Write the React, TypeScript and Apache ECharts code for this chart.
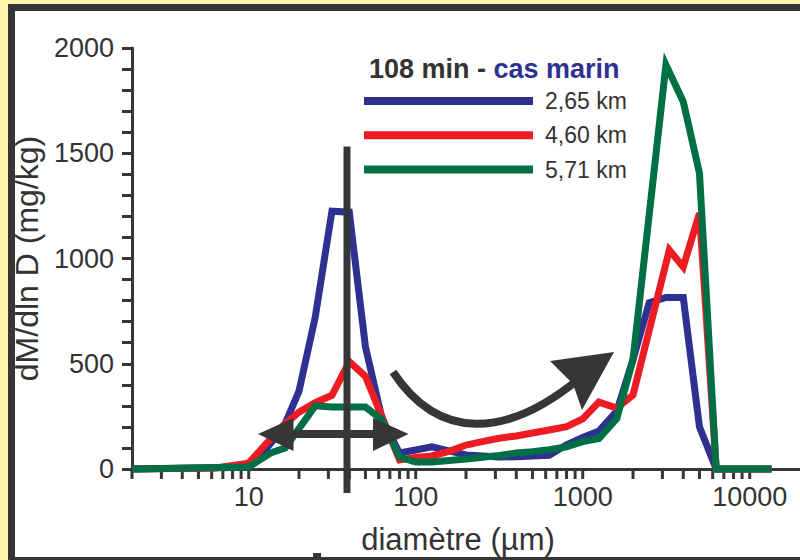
import React, { useEffect, useRef } from "react";
import * as echarts from "echarts";

// ---- data (diameter in µm, dM/dlnD in mg/kg) ----
const seriesNames = ["2,65 km", "4,60 km", "5,71 km"];
const seriesColors = ["#2e3192", "#ed1c24", "#006f45"];

const blue265: [number, number][] = [
  [2, 0], [10, 8], [12.5, 90], [16, 190], [20, 370], [25, 720], [31.5, 1225], [40, 1220],
  [50, 580], [63, 235], [80, 76], [100, 90], [125, 105], [160, 85], [200, 67], [250, 62],
  [315, 57], [400, 58], [500, 62], [630, 65], [800, 115], [1000, 150], [1250, 180],
  [1600, 275], [2000, 520], [2500, 790], [3150, 815], [4000, 815], [5000, 200], [6300, 0], [13500, 0],
];

const red460: [number, number][] = [
  [2, 0], [6.3, 5], [10, 28], [12.5, 114], [16, 205], [20, 270], [25, 315], [31.5, 350],
  [40, 510], [50, 440], [63, 245], [80, 43], [100, 55], [125, 62], [160, 85], [200, 114],
  [250, 130], [315, 146], [400, 157], [500, 171], [630, 185], [800, 201], [1000, 238],
  [1250, 318], [1600, 290], [2000, 352], [3300, 1040], [4000, 960], [5000, 1215], [6300, 0], [13500, 0],
];

const green571: [number, number][] = [
  [2, 0], [10, 10], [13.5, 76], [16.5, 100], [25, 300], [31.5, 295], [50, 295], [63, 233],
  [80, 57], [100, 33], [125, 33], [200, 48], [315, 64], [400, 76], [500, 82], [630, 92],
  [800, 105], [1000, 130], [1250, 145], [1600, 240], [2000, 520], [3150, 1920], [4000, 1745],
  [5000, 1406], [6300, 0], [13500, 0],
];

const xMajorLabels = [10, 100, 1000, 10000];
const tickDecades = [1, 10, 100, 1000, 10000];
const tickMultipliers = [1, 2, 3, 4, 5, 6, 7, 8, 9];
const yTicks = [0, 500, 1000, 1500, 2000];

const titleLeft = "108 min - ";
const titleRight = "cas marin";
const xTitle = "diamètre (µm)";
const yTitle = "dM/dln D (mg/kg)";

const FONT = "'Liberation Sans', Arial, Helvetica, sans-serif";
const DARK = "#363538";
const TEXT = "#333333";
const YELLOW = "#fdf5a8";

export default function App() {
  const ref = useRef<HTMLDivElement>(null);

  useEffect(() => {
    if (!ref.current) return;
    const chart = echarts.init(ref.current, undefined, { renderer: "svg" });

    const xMin = 2;
    const xMax = 20000;
    const tickValues: number[] = [];
    tickDecades.forEach((d) =>
      tickMultipliers.forEach((m) => {
        const v = d * m;
        if (v >= xMin && v <= 10000) tickValues.push(v);
      })
    );

    const lineSeries = [blue265, red460, green571].map((data, i) => ({
      type: "line",
      name: seriesNames[i],
      data,
      showSymbol: false,
      symbol: "none",
      z: 3 + i,
      lineStyle: { color: seriesColors[i], width: 7, join: "miter", cap: "butt" },
      itemStyle: { color: seriesColors[i] },
      clip: false,
    }));

    const option: any = {
      animation: false,
      backgroundColor: YELLOW,
      textStyle: { fontFamily: FONT },
      title: {
        text: `{a|${titleLeft}}{b|${titleRight}}`,
        left: 369,
        top: 55,
        padding: 0,
        textStyle: {
          rich: {
            a: { fontFamily: FONT, fontSize: 27, fontWeight: "bold", color: TEXT },
            b: { fontFamily: FONT, fontSize: 27, fontWeight: "bold", color: "#2e3192" },
          },
        },
      },
      legend: {
        data: seriesNames,
        orient: "vertical",
        left: 364,
        top: 88,
        padding: 0,
        itemWidth: 169,
        itemHeight: 8,
        itemGap: 8.3,
        icon: "rect",
        selectedMode: false,
        textStyle: {
          fontFamily: FONT,
          fontSize: 23,
          lineHeight: 26,
          color: TEXT,
          padding: [0, 0, 0, 7],
        },
      },
      grid: { left: 132, top: 48, width: 676, height: 421, containLabel: false },
      xAxis: {
        type: "log",
        logBase: 10,
        min: xMin,
        max: xMax,
        name: xTitle,
        nameLocation: "middle",
        nameGap: 55,
        nameTextStyle: { fontFamily: FONT, fontSize: 31, color: TEXT, padding: [0, 16, 0, 0] },
        axisLine: { lineStyle: { color: DARK, width: 3 } },
        axisTick: { show: false },
        minorTick: { show: false },
        splitLine: { show: false },
        axisLabel: {
          interval: 0,
          margin: 14,
          fontFamily: FONT,
          fontSize: 27,
          color: TEXT,
          showMinLabel: false,
          showMaxLabel: false,
          formatter: (v: number) => {
            const found = xMajorLabels.find((m) => Math.abs(m - v) / m < 1e-6);
            return found ? String(found) : "";
          },
        },
      },
      yAxis: {
        type: "value",
        min: yTicks[0],
        max: yTicks[yTicks.length - 1],
        interval: 500,
        name: yTitle,
        nameLocation: "middle",
        nameRotate: 90,
        nameGap: 76,
        nameTextStyle: { fontFamily: FONT, fontSize: 32, color: TEXT },
        axisLine: { show: true, lineStyle: { color: DARK, width: 3 } },
        axisTick: { show: true, length: 10, lineStyle: { color: DARK, width: 3 } },
        minorTick: { show: true, splitNumber: 5, length: 10, lineStyle: { color: DARK, width: 3 } },
        splitLine: { show: false },
        axisLabel: {
          margin: 18,
          fontFamily: FONT,
          fontSize: 27,
          color: TEXT,
          formatter: (v: number) => String(Math.round(v)),
        },
      },
      graphic: [
        { type: "rect", z: -100, silent: true, shape: { x: 8, y: 4, width: 820, height: 580 }, style: { fill: DARK } },
        { type: "rect", z: -99, silent: true, shape: { x: 15, y: 11, width: 810, height: 546 }, style: { fill: "#ffffff" } },
        { type: "rect", z: 100, silent: true, shape: { x: 313, y: 553, width: 8, height: 5 }, style: { fill: DARK } },
        // vertical marker
        { type: "rect", z: 100, silent: true, shape: { x: 343.5, y: 146.5, width: 7, height: 346.5 }, style: { fill: DARK } },
        // double arrow
        { type: "rect", z: 100, silent: true, shape: { x: 290, y: 430, width: 86, height: 8 }, style: { fill: DARK } },
        { type: "polygon", z: 100, silent: true, shape: { points: [[258, 434], [293.5, 418], [293.5, 451]] }, style: { fill: DARK } },
        { type: "polygon", z: 100, silent: true, shape: { points: [[408.5, 434], [373, 418], [373, 451]] }, style: { fill: DARK } },
        // curved arrow
        {
          type: "bezierCurve", z: 100, silent: true,
          shape: { x1: 393, y1: 372, cpx1: 438, cpy1: 440, cpx2: 505, cpy2: 440, x2: 580, y2: 378 },
          style: { stroke: DARK, lineWidth: 8, fill: "none" },
        },
        {
          type: "polygon", z: 100, silent: true,
          shape: { points: [[614, 352], [550, 361], [573, 384], [582, 410]] },
          style: { fill: DARK },
        },
      ],
      series: [
        ...lineSeries,
        {
          type: "custom",
          name: "xticks",
          silent: true,
          clip: false,
          z: 1,
          data: tickValues.map((v) => [v, 0]),
          renderItem: (_params: any, api: any) => {
            const p = api.coord([api.value(0), 0]);
            return {
              type: "line",
              shape: { x1: p[0], y1: p[1], x2: p[0], y2: p[1] + 10 },
              style: { stroke: DARK, lineWidth: 3 },
            };
          },
        },
      ],
    };

    chart.setOption(option);
    return () => chart.dispose();
  }, []);

  return (
    <div
      ref={ref}
      style={{ position: "fixed", left: 0, top: 0, width: 800, height: 560 }}
    />
  );
}
